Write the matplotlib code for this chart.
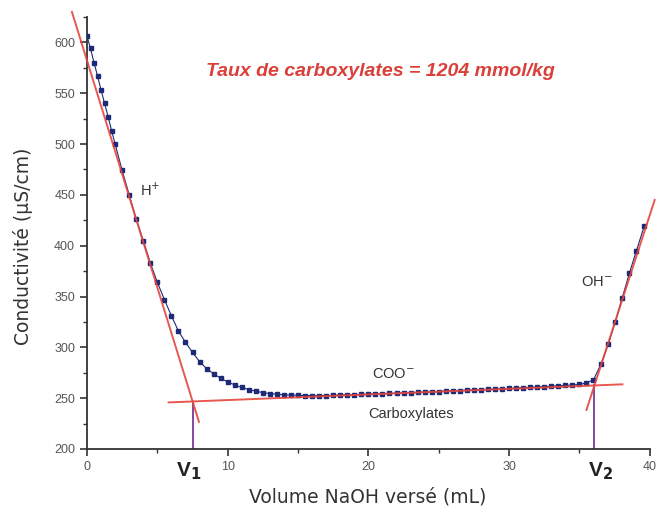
import matplotlib
matplotlib.use("Agg")
import matplotlib.pyplot as plt
from matplotlib.ticker import MultipleLocator

plt.rcParams['font.family'] = ['Liberation Sans', 'DejaVu Sans']

# Measured titration points
volume = [0, 0.25, 0.5, 0.75, 1.0, 1.25, 1.5, 1.75, 2.0, 2.5, 3.0, 3.5, 4.0, 4.5,
          5.0, 5.5, 6.0, 6.5, 7.0, 7.5, 8.0, 8.5, 9.0, 9.5, 10.0, 10.5, 11.0, 11.5,
          12.0, 12.5, 13.0, 13.5, 14.0, 14.5, 15.0, 15.5, 16.0, 16.5, 17.0, 17.5,
          18.0, 18.5, 19.0, 19.5, 20.0, 20.5, 21.0, 21.5, 22.0, 22.5, 23.0, 23.5,
          24.0, 24.5, 25.0, 25.5, 26.0, 26.5, 27.0, 27.5, 28.0, 28.5, 29.0, 29.5,
          30.0, 30.5, 31.0, 31.5, 32.0, 32.5, 33.0, 33.5, 34.0, 34.5, 35.0, 35.5,
          36.0, 36.55, 37.05, 37.55, 38.05, 38.55, 39.05, 39.6]
conductivity = [606, 594, 580, 567, 553, 540, 527, 513, 500, 474, 450, 426, 405, 383,
                364, 347, 331, 316, 305, 295, 286, 279, 274, 269.5, 266, 263, 260.5, 258.5,
                256.8, 255.5, 254.5, 253.8, 253.3, 253.0, 252.8, 252.6, 252.5, 252.5, 252.6, 252.8,
                253.0, 253.2, 253.4, 253.6, 253.9, 254.1, 254.4, 254.6, 254.9, 255.1, 255.4, 255.6,
                255.9, 256.2, 256.5, 256.8, 257.1, 257.4, 257.7, 258.0, 258.3, 258.6, 258.9, 259.2,
                259.5, 259.9, 260.2, 260.6, 260.9, 261.3, 261.7, 262.1, 262.5, 263.0, 263.5, 265.0,
                268, 284, 303, 325, 349, 373, 395, 419]

# Tangent lines (endpoints)
h_line_x = [-1.07, 7.96]
h_line_y = [630, 226.6]
coo_line_x = [5.8, 38.06]
coo_line_y = [245.8, 263.6]
oh_line_x = [35.5, 40.35]
oh_line_y = [238.4, 445]

# Equivalence volumes
v1 = 7.5
v1_y = 245.0
v2 = 36.07
v2_y = 262.8

fig = plt.figure(figsize=(6.59, 5.14), dpi=100)
ax = fig.add_axes([0.132, 0.1265, 0.854, 0.8405])

ax.plot(volume, conductivity, color='#1c2a78', marker='s', markersize=2.6,
        linewidth=0.8, zorder=3)

red = '#e4473d'
for xs, ys in [(h_line_x, h_line_y), (coo_line_x, coo_line_y), (oh_line_x, oh_line_y)]:
    ax.plot(xs, ys, color=red, linewidth=1.4, alpha=0.9, zorder=4, clip_on=False)

purple = '#7a3a9a'
ax.plot([v1, v1], [200, v1_y], color=purple, linewidth=1.3, zorder=2)
ax.plot([v2, v2], [200, v2_y], color=purple, linewidth=1.3, zorder=2)

ax.set_xlim(0, 40)
ax.set_ylim(200, 625)
ax.spines['top'].set_visible(False)
ax.spines['right'].set_visible(False)
for s in ['left', 'bottom']:
    ax.spines[s].set_linewidth(1.3)
    ax.spines[s].set_color('#333333')

ax.xaxis.set_major_locator(MultipleLocator(10))
ax.xaxis.set_minor_locator(MultipleLocator(5))
ax.yaxis.set_major_locator(MultipleLocator(50))
ax.yaxis.set_minor_locator(MultipleLocator(25))
ax.tick_params(which='major', length=5, width=1.2, color='#333333',
               labelsize=9, labelcolor='#555555')
ax.tick_params(which='minor', length=3, width=1.0, color='#333333')
ax.set_yticks([200, 250, 300, 350, 400, 450, 500, 550, 600])

ax.set_xlabel('Volume NaOH versé (mL)', fontsize=13.5, color='#333333',
              family=['DejaVu Sans'])
ax.set_ylabel('Conductivité (µS/cm)', fontsize=13.5, color='#333333',
              family=['DejaVu Sans'])
ax.xaxis.set_label_coords(0.499, -0.09)
ax.yaxis.set_label_coords(-0.096, 0.47)

ax.text(20.85, 571, 'Taux de carboxylates = 1204 mmol/kg', color='#d9403a',
        fontsize=14, fontweight='bold', fontstyle='italic', ha='center', va='center')
ax.text(3.8, 454, 'H$^{+}$', fontsize=10.5, color='#333333', ha='left', va='center')
ax.text(36.2, 364, 'OH$^{-}$', fontsize=10.5, color='#333333', ha='center', va='center')
ax.text(21.8, 273, 'COO$^{-}$', fontsize=10.5, color='#333333', ha='center', va='center')
ax.text(23.0, 234, 'Carboxylates', fontsize=10.5, color='#333333', ha='center', va='center')

ax.text(v1 - 0.3, 178, 'V$_\\mathbf{1}$', fontsize=15, fontweight='bold', color='#222222',
        ha='center', va='center')
ax.text(v2 + 0.4, 178, 'V$_\\mathbf{2}$', fontsize=15, fontweight='bold', color='#222222',
        ha='center', va='center')

fig.savefig('out.png', dpi=100)
